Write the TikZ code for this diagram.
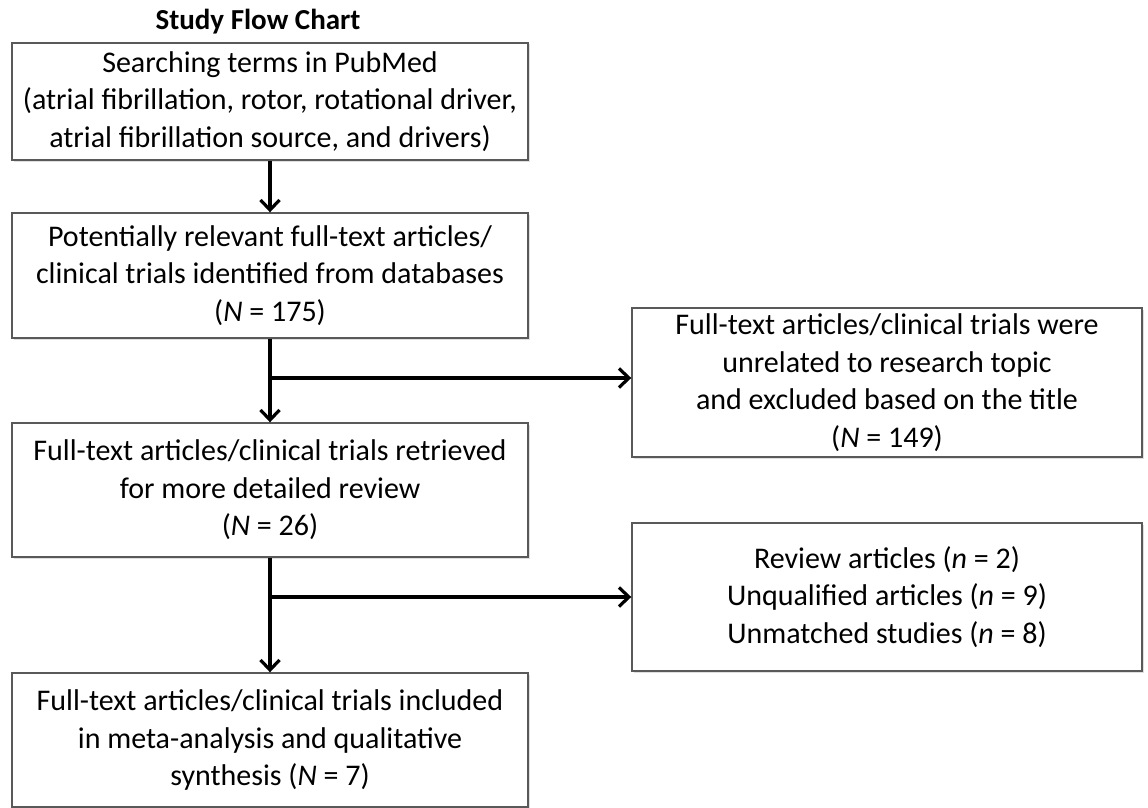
\documentclass[tikz,border=0pt]{standalone}
\usepackage{fontspec}
\setmainfont{Carlito}
\usetikzlibrary{arrows.meta,shadows}

\begin{document}
\begin{tikzpicture}[x=1pt,y=-1pt,
    box/.style={draw=black!65, line width=1.4pt, fill=white, align=center,
        inner sep=0pt, font=\fontsize{30}{37.5}\selectfont,
        drop shadow={shadow xshift=1.5pt, shadow yshift=-1.5pt, opacity=0.25}},
    flow/.style={line width=3.2pt, -{Straight Barb[length=10pt, width=19pt, line width=3.2pt]}}]
        \useasboundingbox (0,0) rectangle (1148,808);
        \node[font=\fontsize{29}{37}\selectfont\bfseries] (title) at (258,22) {Study Flow Chart};
        % left column
        \node[box, minimum width=516pt, minimum height=117pt] (search) at (270,101.5)
            {Searching terms in PubMed\\(atrial fibrillation, rotor, rotational driver,\\atrial fibrillation source, and drivers)};
        \node[box, minimum width=516pt, minimum height=125pt] (found) at (270,275.5)
            {Potentially relevant full-text articles/\\clinical trials identified from databases\\(\textit{N} = 175)};
        \node[box, minimum width=516pt, minimum height=134pt] (retrieved) at (270,490)
            {Full-text articles/clinical trials retrieved\\for more detailed review\\(\textit{N} = 26)};
        \node[box, minimum width=516pt, minimum height=134pt] (included) at (270,740)
            {Full-text articles/clinical trials included\\in meta-analysis and qualitative\\synthesis (\textit{N} = 7)};
        % right column
        \node[box, minimum width=510pt, minimum height=149pt] (unrelated) at (887,382.5)
            {Full-text articles/clinical trials were\\unrelated to research topic\\and excluded based on the title\\(\textit{N} = 149)};
        \node[box, minimum width=510pt, minimum height=148pt] (excluded) at (887,597)
            {Review articles (\textit{n} = 2)\\Unqualified articles (\textit{n} = 9)\\Unmatched studies (\textit{n} = 8)};
        % arrows
        \coordinate (split1) at (270,378);
        \coordinate (split2) at (270,597);
        \draw[flow] (search) -- (found);
        \draw[flow] (found) -- (retrieved);
        \draw[flow] (retrieved) -- (included);
        \draw[flow] (split1) -- (split1 -| unrelated.west);
        \draw[flow] (split2) -- (split2 -| excluded.west);
\end{tikzpicture}
\end{document}
